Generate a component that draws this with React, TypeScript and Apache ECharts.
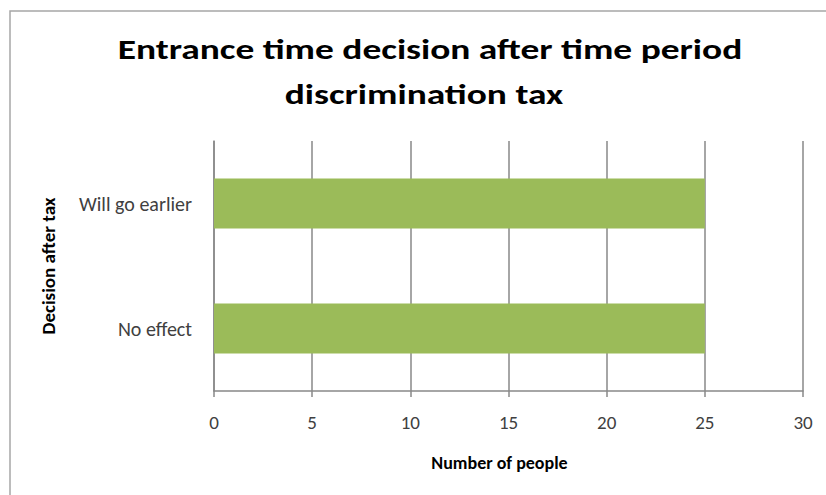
import React, { useEffect, useRef } from "react";
import * as echarts from "echarts";

const categories = ["No effect", "Will go earlier"];
const values = [25, 25];
const titleLines = ["Entrance time decision after time period", "discrimination tax"];
const xAxisName = "Number of people";
const yAxisName = "Decision after tax";

export default function App() {
  const ref = useRef<HTMLDivElement>(null);
  useEffect(() => {
    if (!ref.current) return;
    const chart = echarts.init(ref.current, undefined, { renderer: "svg" });
    const font = "Carlito, 'Liberation Sans Narrow', 'Open Sans', sans-serif";
    const titleFont = "bold 29px Carlito, 'Open Sans', sans-serif";
    chart.setOption({
      animation: false,
      backgroundColor: "#ffffff",
      textStyle: { fontFamily: font },
      graphic: [
        {
          type: "rect",
          shape: { x: 10, y: 11, width: 830, height: 500 },
          style: { fill: "none", stroke: "#a6a6a6", lineWidth: 1.5 },
          silent: true,
        },
        {
          type: "text",
          x: 430,
          y: 49,
          scaleX: 1.29,
          style: {
            text: titleLines[0],
            font: titleFont,
            fill: "#000000",
            align: "center",
            verticalAlign: "middle",
          },
        },
        {
          type: "text",
          x: 424,
          y: 94,
          scaleX: 1.29,
          style: {
            text: titleLines[1],
            font: titleFont,
            fill: "#000000",
            align: "center",
            verticalAlign: "middle",
          },
        },
      ],
      grid: { left: 214, right: 23, top: 141, bottom: 104 },
      xAxis: {
        type: "value",
        min: 0,
        max: 30,
        interval: 5,
        name: xAxisName,
        nameLocation: "middle",
        nameGap: 63,
        nameTextStyle: {
          fontFamily: font,
          fontSize: 18,
          fontWeight: "bold",
          color: "#000",
          padding: [0, 18, 0, 0],
        },
        axisLine: { show: true, lineStyle: { color: "#888888", width: 1.5 } },
        axisTick: { show: true, length: 6, lineStyle: { color: "#888888", width: 1.5 } },
        axisLabel: { margin: 22, fontSize: 19, color: "#404040", fontFamily: font },
        splitLine: { show: true, lineStyle: { color: "#888888", width: 1.5 } },
      },
      yAxis: {
        type: "category",
        data: categories,
        name: yAxisName,
        nameLocation: "middle",
        nameGap: 156,
        nameRotate: 90,
        nameTextStyle: { fontFamily: font, fontSize: 19, fontWeight: "bold", color: "#000" },
        axisLine: { show: true, lineStyle: { color: "#888888", width: 1.5 } },
        axisTick: { show: false },
        axisLabel: { margin: 22, fontSize: 20, color: "#404040", fontFamily: font },
        splitLine: { show: false },
      },
      series: [
        {
          type: "bar",
          data: values,
          barWidth: 50,
          itemStyle: { color: "#9BBB59" },
        },
      ],
    });
    return () => chart.dispose();
  }, []);
  return (
    <div
      ref={ref}
      style={{ position: "fixed", left: 0, top: 0, width: 826, height: 495 }}
    />
  );
}
